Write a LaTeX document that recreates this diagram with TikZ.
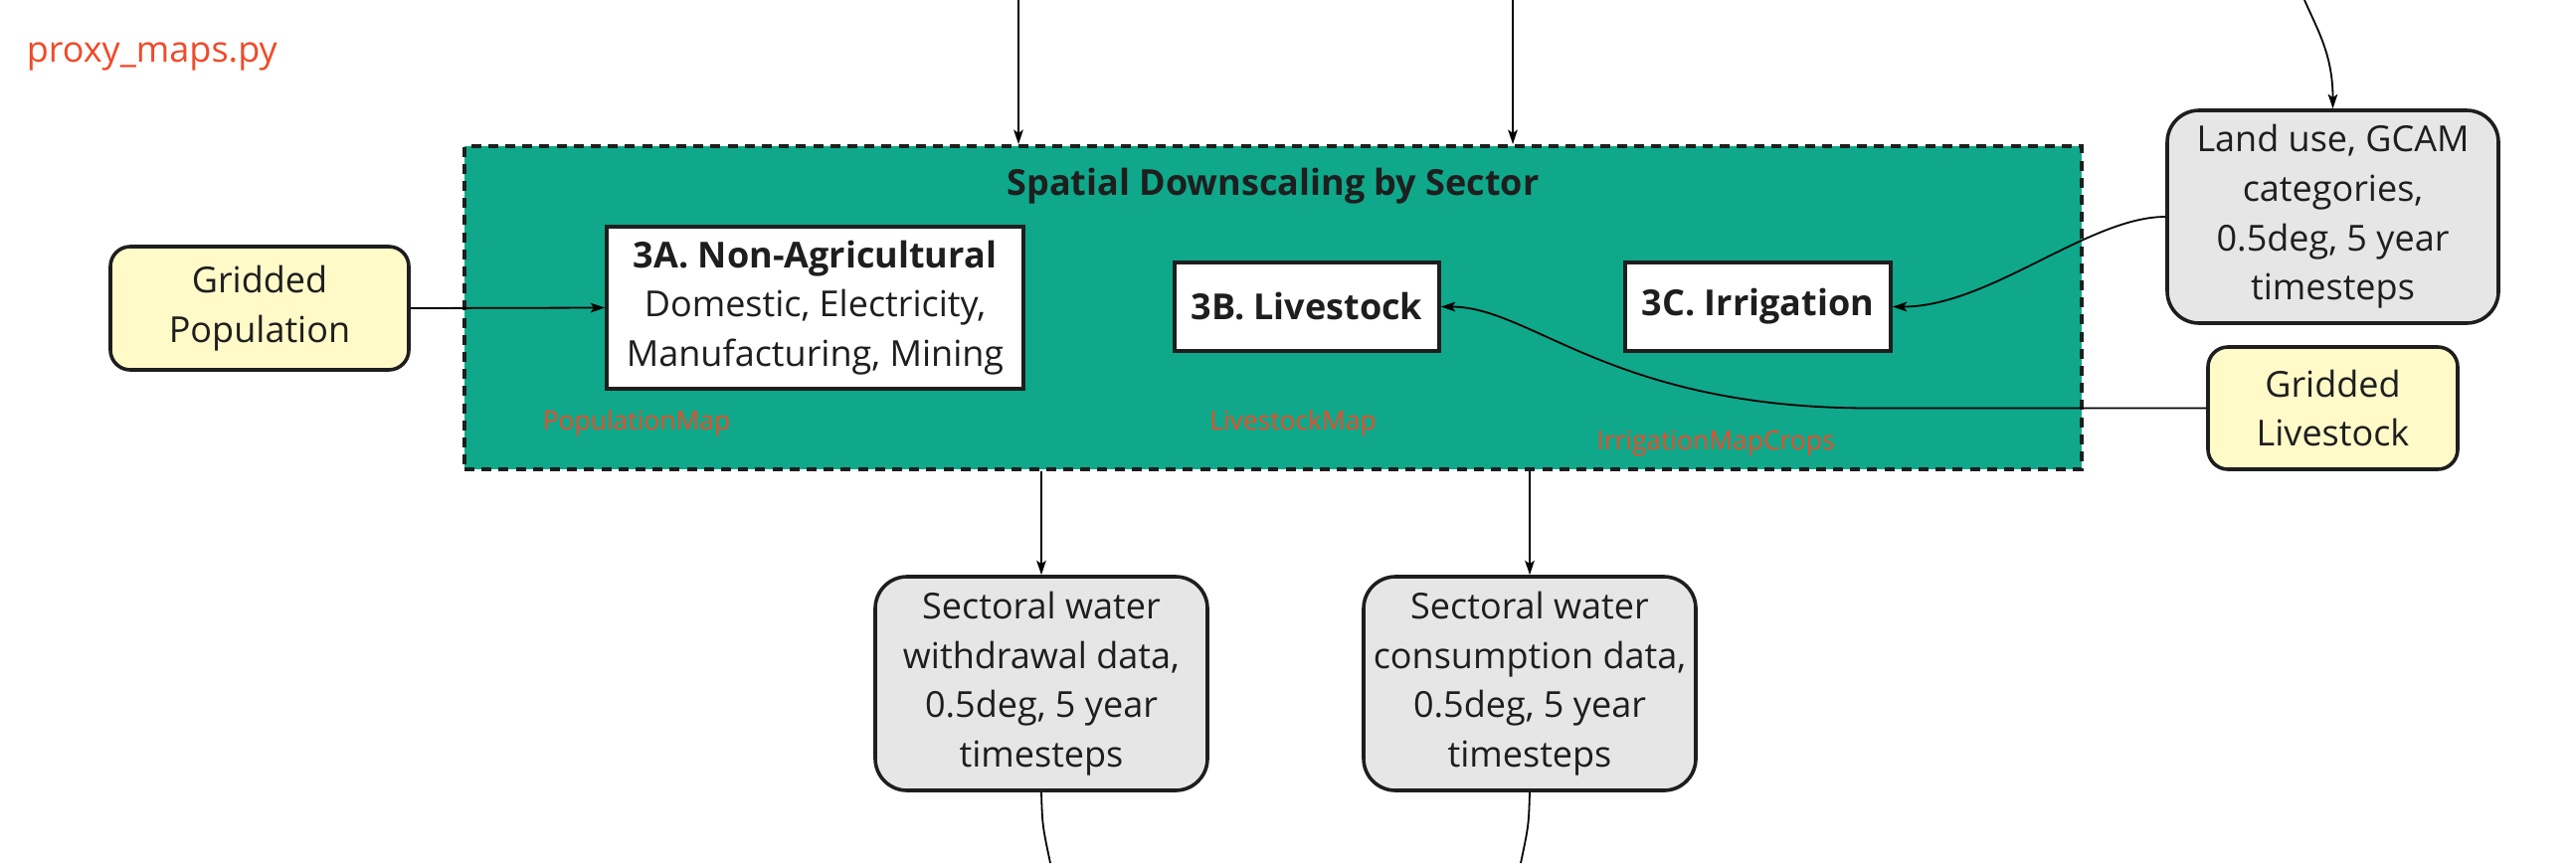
\documentclass[tikz,border=0pt]{standalone}
\usepackage{fontspec}
\setmainfont{Open Sans}
\usetikzlibrary{arrows.meta}
\definecolor{grn}{HTML}{0FA88A}
\definecolor{ylw}{HTML}{FFFAC8}
\definecolor{gry}{HTML}{E6E6E6}
\definecolor{ink}{HTML}{1E1E1E}
\definecolor{redc}{HTML}{F04A28}
\tikzset{
  nodetxt/.style={font=\fontsize{9pt}{12.4pt}\selectfont, text=ink, align=center},
  sbox/.style={nodetxt, draw=ink, line width=0.9pt, fill=white, inner sep=0pt},
  rbox/.style={sbox, rounded corners=8pt},
  srbox/.style={sbox, rounded corners=5pt},
  grp/.style={draw=ink, fill=grn, line width=1pt, dash pattern=on 2.5pt off 1.8pt, inner sep=0pt},
  ttl/.style={font=\fontsize{9pt}{11pt}\selectfont\bfseries, text=ink, inner sep=0pt},
  lbl/.style={font=\fontsize{6.6pt}{8pt}\selectfont, text=redc, inner sep=0pt},
  ptr/.style={draw=black, line width=0.45pt, -{Stealth[length=3.6pt,width=2.4pt,inset=0.8pt]}},
  wire/.style={draw=black, line width=0.45pt}
}
\begin{document}
\begin{tikzpicture}[x=0.25pt,y=-0.25pt]
\useasboundingbox (0,0) rectangle (2590,868);

\node[font=\fontsize{9pt}{11pt}\selectfont, text=redc, anchor=west, inner sep=0pt] (src) at (26,57) {proxy\_maps.py};

\node[grp, minimum width=406.5pt, minimum height=81.25pt] (grp) at (1280,309.5) {};
\node[ttl] (ttl) at (1280,187) {Spatial Downscaling by Sector};

\node[sbox, minimum width=104.75pt, minimum height=40.75pt] (a3) at (819.5,309.5) {\textbf{3A. Non-Agricultural}\\Domestic, Electricity,\\Manufacturing, Mining};
\node[sbox, minimum width=66.5pt, minimum height=22.25pt] (b3) at (1314,308.5) {\textbf{3B. Livestock}};
\node[sbox, minimum width=66.75pt, minimum height=22.25pt] (c3) at (1767.5,308.5) {\textbf{3C. Irrigation}};

\node[lbl] (lpop) at (640,426) {PopulationMap};
\node[lbl] (llvs) at (1300,426) {LivestockMap};
\node[lbl] (lirr) at (1725,446) {IrrigationMapCrops};

\node[srbox, fill=ylw, minimum width=75pt, minimum height=31pt] (pop) at (261,310) {Gridded\\Population};
\node[rbox, fill=gry, minimum width=83.25pt, minimum height=53.5pt] (land) at (2345.5,218) {Land use, GCAM\\categories,\\0.5deg, 5 year\\timesteps};
\node[srbox, fill=ylw, minimum width=62.75pt, minimum height=30.75pt] (gl) at (2345.5,410.5) {Gridded\\Livestock};
\node[rbox, fill=gry, minimum width=83.5pt, minimum height=53.75pt] (wd) at (1047,687.5) {Sectoral water\\withdrawal data,\\0.5deg, 5 year\\timesteps};
\node[rbox, fill=gry, minimum width=83.5pt, minimum height=53.75pt] (cs) at (1538,687.5) {Sectoral water\\consumption data,\\0.5deg, 5 year\\timesteps};

\coordinate (in1) at (1024,0);
\coordinate (in2) at (1521,0);
\coordinate (in3) at (2317,0);
\coordinate (out1) at (1056,868);
\coordinate (out2) at (1529,868);
\coordinate (lvk) at (1880,410.5);

\draw[ptr] (in1) -- (in1 |- grp.north);
\draw[ptr] (in2) -- (in2 |- grp.north);
\draw[ptr] (in3) .. controls (2330,30) and (2345.5,55) .. (land.north);
\draw[ptr] (pop.east) -- (a3.west);
\draw[ptr] (land.west) .. controls (2100,218) and (2000,308.5) .. (c3.east);
\draw[ptr] (gl.west) -- (lvk) .. controls (1620,410.5) and (1540,308.5) .. (b3.east);
\draw[ptr] (wd.north |- grp.south) -- (wd.north);
\draw[ptr] (cs.north |- grp.south) -- (cs.north);
\draw[wire] (wd.south) .. controls (1048,830) .. (out1);
\draw[wire] (cs.south) .. controls (1537,830) .. (out2);
\end{tikzpicture}
\end{document}
